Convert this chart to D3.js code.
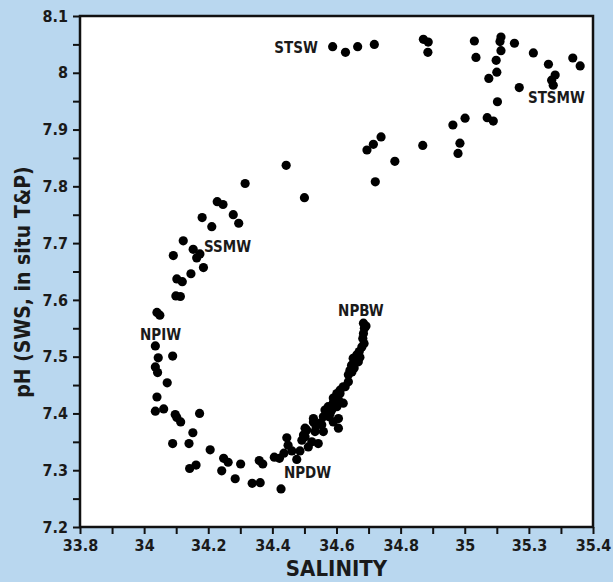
<!DOCTYPE html>
<html><head><meta charset="utf-8">
<script src="https://cdn.jsdelivr.net/npm/d3@7"></script>
<style>
html,body{margin:0;padding:0;background:#b9d7ef;}
svg{display:block;}
</style></head>
<body>
<svg id="c" width="613" height="582"></svg>
<script>
// Salinity values of each sample
const salinity = [
34.588,34.628,34.666,34.718,34.871,34.886,34.885,35.030,35.035,35.113,35.110,35.113,35.098,35.155,35.100,35.075,
35.214,35.261,35.282,35.271,35.276,35.337,35.360,35.170,35.102,35.001,34.963,35.070,35.089,34.985,34.979,
34.739,34.715,34.695,34.782,34.721,34.869,34.500,34.443,
34.315,34.228,34.246,34.278,34.295,34.181,34.211,34.122,34.153,34.091,34.174,34.164,34.185,34.146,34.102,34.119,34.099,34.113,34.040,34.049,
34.035,34.044,34.089,34.035,34.042,34.072,34.040,34.035,34.061,34.097,34.102,34.114,34.173,34.152,34.089,34.140,34.206,34.142,34.162,
34.248,34.262,34.242,34.301,34.284,34.337,34.362,34.359,34.370,34.427,34.406,34.422,34.436,34.445,34.449,34.461,34.476,34.486,34.492,34.502,34.502,
34.528,34.523,34.559,34.554,34.570,34.585,34.601,34.590,34.606,34.606,34.590,34.611,34.627,34.637,
34.684,34.687,34.684,34.682,34.686,34.679,34.671,34.663,34.652,34.668,34.647,34.642,34.637,34.655,34.621,34.611,34.601,34.590,34.606,34.621,
34.574,34.564,34.580,34.559,34.528,34.549,34.507,34.533,34.497,34.543,34.512,34.648,34.673,34.692,34.577,34.536
];
// pH (SWS, in situ T&P) of each sample
const pH = [
8.046,8.036,8.046,8.050,8.059,8.054,8.036,8.056,8.027,8.063,8.055,8.039,8.022,8.052,8.001,7.990,
8.035,8.015,7.996,7.987,7.978,8.026,8.012,7.974,7.949,7.920,7.908,7.921,7.915,7.876,7.858,
7.887,7.874,7.864,7.844,7.808,7.872,7.780,7.837,
7.805,7.773,7.768,7.750,7.735,7.745,7.729,7.704,7.689,7.678,7.681,7.674,7.657,7.646,7.637,7.632,7.607,7.606,7.578,7.573,
7.519,7.498,7.501,7.482,7.472,7.454,7.429,7.404,7.408,7.398,7.393,7.385,7.400,7.366,7.347,7.347,7.336,7.303,7.309,
7.321,7.314,7.299,7.311,7.285,7.277,7.278,7.317,7.311,7.267,7.323,7.321,7.330,7.357,7.344,7.334,7.319,7.334,7.353,7.359,7.374,
7.385,7.350,7.368,7.380,7.400,7.406,7.412,7.385,7.391,7.374,7.419,7.435,7.447,7.456,
7.559,7.550,7.541,7.532,7.523,7.517,7.509,7.503,7.497,7.491,7.485,7.476,7.468,7.480,7.447,7.441,7.435,7.427,7.424,7.418,
7.412,7.406,7.400,7.394,7.391,7.383,7.371,7.368,7.362,7.347,7.341,7.473,7.499,7.554,7.394,7.378
];
// Water-mass labels
const massNames = ["STSW","STSMW","SSMW","NPIW","NPBW","NPDW"];
const massSal   = [34.542,35.197,34.187,33.987,34.605,34.436];
const massPH    = [8.042,7.955,7.693,7.538,7.579,7.295];
// Axis ticks
const xTickVals   = [33.8,33.9,34.0,34.1,34.2,34.3,34.4,34.5,34.6,34.7,34.8,34.9,35.0,35.1,35.2,35.3,35.4];
const xTickLabels = ["33.8","","34","","34.2","","34.4","","34.6","","34.8","","35","","35.3","","35.4"];
const yTickVals   = [7.2,7.25,7.3,7.35,7.4,7.45,7.5,7.55,7.6,7.65,7.7,7.75,7.8,7.85,7.9,7.95,8.0,8.05,8.1];
const yTickLabels = ["7.2","","7.3","","7.4","","7.5","","7.6","","7.7","","7.8","","7.9","","8","","8.1"];

const svg = d3.select("#c");
const W=613,H=582;
svg.append("rect").attr("width",W).attr("height",H).attr("fill","#b9d7ef");
const pL=80,pR=593,pT=16,pB=527;
const x = d3.scaleLinear().domain([33.8,35.4]).range([pL,pR]);
const y = d3.scaleLinear().domain([7.2,8.1]).range([pB,pT]);
const font = "'DejaVu Sans Condensed','DejaVu Sans',sans-serif";

svg.append("rect").attr("x",pL).attr("y",pT).attr("width",pR-pL).attr("height",pB-pT)
  .attr("fill","#fff");

const xa = svg.append("g").attr("transform",`translate(0,${pB})`)
  .call(d3.axisBottom(x).tickValues(xTickVals).tickSize(7).tickPadding(6)
    .tickFormat((d,i)=>xTickLabels[i]));
const ya = svg.append("g").attr("transform",`translate(${pL},0)`)
  .call(d3.axisLeft(y).tickValues(yTickVals).tickSize(7).tickPadding(5)
    .tickFormat((d,i)=>yTickLabels[i]));
[xa,ya].forEach(g=>{
  g.select(".domain").remove();
  g.selectAll(".tick line").attr("stroke","#111").attr("stroke-width",2);
  g.selectAll("text").attr("fill","#1a1a1a").style("font-family",font)
    .style("font-weight","bold").style("font-size","16px");
});

svg.append("rect").attr("x",pL).attr("y",pT).attr("width",pR-pL).attr("height",pB-pT)
  .attr("fill","none").attr("stroke","#111").attr("stroke-width",2.5);

svg.append("g").selectAll("circle").data(salinity).join("circle")
  .attr("cx",(d)=>x(d)).attr("cy",(d,i)=>y(pH[i])).attr("r",4.6).attr("fill","#000");

const anchors=["end","start","start","start","start","start"];
svg.append("g").selectAll("text").data(massNames).join("text")
  .attr("x",(d,i)=>x(massSal[i])).attr("y",(d,i)=>y(massPH[i]))
  .attr("text-anchor",(d,i)=>anchors[i])
  .attr("dominant-baseline","middle")
  .style("font-family",font).style("font-weight","bold").style("font-size","15px")
  .attr("fill","#1a1a1a").text(d=>d);

svg.append("text").attr("x",(pL+pR)/2).attr("y",576).attr("text-anchor","middle")
  .style("font-family",font).style("font-weight","bold").style("font-size","22px")
  .attr("fill","#1a1a1a").text("SALINITY");
svg.append("text").attr("transform",`translate(30,282) rotate(-90)`)
  .attr("text-anchor","middle")
  .style("font-family",font).style("font-weight","bold").style("font-size","21px")
  .attr("fill","#1a1a1a").text("pH (SWS, in situ T&P)");
</script>
</body></html>
